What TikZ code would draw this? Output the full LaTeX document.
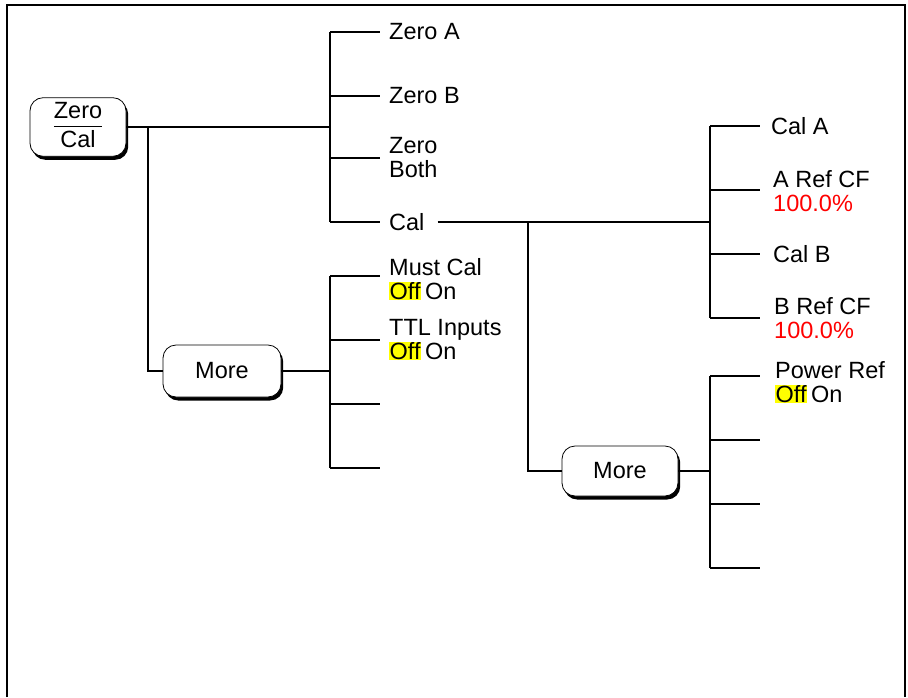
\documentclass[tikz,border=0pt]{standalone}
\usepackage{fontspec}
\setmainfont{Liberation Sans}
\usetikzlibrary{shadows}
\definecolor{hl}{RGB}{255,255,0}
\definecolor{rd}{RGB}{255,0,0}
\newcommand{\offon}{{\setlength{\fboxsep}{0.5pt}\colorbox{hl}{Off}}\,On}
\tikzset{
  conn/.style={line width=1.5pt},
  frame/.style={line width=2pt},
  btn/.style={draw, line width=0.8pt, rounded corners=13pt, fill=white,
    drop shadow={shadow xshift=2.2pt, shadow yshift=-3.5pt, fill=black, opacity=1},
    font=\fontsize{23.5}{26}\selectfont, inner sep=0pt},
  lbl/.style={anchor=west, inner xsep=9pt, inner ysep=0pt, align=left,
    font=\fontsize{23.5}{24}\selectfont},
}
\begin{document}
\begin{tikzpicture}[x=1pt,y=-1pt]
\useasboundingbox (0,0) rectangle (908,697);
\draw[frame] (7,697) -- (7,5) -- (905,5) -- (905,697);

% buttons
\node[btn, minimum width=96pt, minimum height=50pt] (zc) at (78,127)
  {\setlength{\arrayrulewidth}{1.3pt}\renewcommand{\arraystretch}{1.12}\begin{tabular}{@{}c@{}}Zero\\[-1pt]\hline Cal\end{tabular}};
\node[btn, minimum width=118pt, minimum height=52pt] (m1) at (222,371) {More};
\node[btn, minimum width=116pt, minimum height=50pt] (m2) at (620,471) {More};

% Zero/Cal tree labels
\node[lbl] (za) at (380,32) {Zero A};
\node[lbl] (zb) at (380,96) {Zero B};
\node[lbl] (zboth) at (380,158) {Zero\\Both};
\node[lbl] (cal) at (380,222) {Cal};
\coordinate (b1) at (330,127);
\draw[conn] (zc.east) -- (b1);
\draw[conn] (330,32) -- (330,222);
\draw[conn] (330,32) -- (za.west);
\draw[conn] (330,96) -- (zb.west);
\draw[conn] (330,158) -- (zboth.west);
\draw[conn] (330,222) -- (cal.west);

% More 1
\coordinate (j1) at (148,127);
\draw[conn] (j1) |- (m1.west);
\node[lbl] (mc) at (380,279) {Must Cal\\\offon};
\node[lbl] (ttl) at (380,340) {TTL Inputs\\\offon};
\coordinate (e13) at (380,404);
\coordinate (e14) at (380,468);
\draw[conn] (m1.east) -- (330,371);
\draw[conn] (330,276) -- (330,468);
\draw[conn] (330,276) -- (380,276);
\draw[conn] (330,340) -- (ttl.west);
\draw[conn] (330,404) -- (e13);
\draw[conn] (330,468) -- (e14);

% Cal tree
\coordinate (calend) at (710,222);
\draw[conn] (cal.east) ++(4,0) -- (calend);
\draw[conn] (710,126) -- (710,318);
\node[lbl, inner xsep=11pt] (ca) at (760,126) {Cal A};
\node[lbl, inner xsep=13pt] (arf) at (760,191) {A Ref CF\\\textcolor{rd}{100.0\%}};
\node[lbl, inner xsep=13pt] (cb) at (760,254) {Cal B};
\node[lbl, inner xsep=14pt] (brf) at (760,318) {B Ref CF\\\textcolor{rd}{100.0\%}};
\draw[conn] (710,126) -- (ca.west);
\draw[conn] (710,190) -- (760,190);
\draw[conn] (710,254) -- (cb.west);
\draw[conn] (710,318) -- (brf.west);

% More 2
\coordinate (j2) at (528,222);
\draw[conn] (j2) |- (m2.west);
\draw[conn] (m2.east) -- (710,471);
\draw[conn] (710,376) -- (710,568);
\node[lbl, inner xsep=15pt] (pr) at (760,382) {Power Ref\\\offon};
\coordinate (e22) at (760,440);
\coordinate (e23) at (760,504);
\coordinate (e24) at (760,568);
\draw[conn] (710,376) -- (760,376);
\draw[conn] (710,440) -- (e22);
\draw[conn] (710,504) -- (e23);
\draw[conn] (710,568) -- (e24);
\end{tikzpicture}
\end{document}
